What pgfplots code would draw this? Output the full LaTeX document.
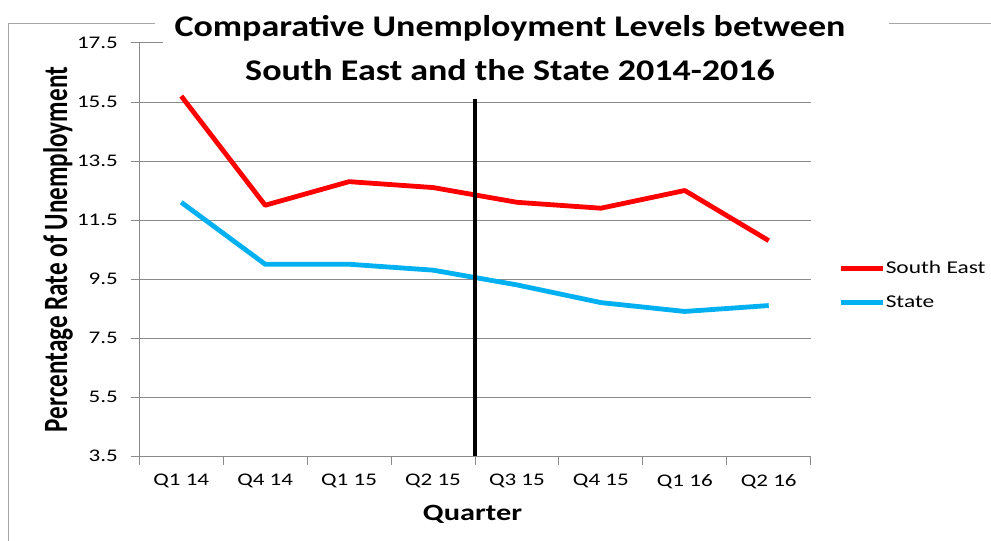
\documentclass[border=0pt]{standalone}
\usepackage{fontspec}
\setmainfont[FakeStretch=1.3]{Carlito}
\newfontfamily\calplain{Carlito}
\newfontfamily\caltitle[FakeStretch=1.2]{Carlito}
\usepackage{graphicx}
\usepackage{pgfplots}
\pgfplotsset{compat=1.18}
\definecolor{seRed}{HTML}{FF0000}
\definecolor{stBlue}{HTML}{00B0F0}
\definecolor{gridgray}{HTML}{8A8A8A}
\definecolor{framegray}{HTML}{A6A6A6}
\begin{document}
\begin{tikzpicture}
\useasboundingbox (0,0) rectangle (743.25pt,405pt);
\fill[white] (0,0) rectangle (743.25pt,405pt);
\draw[framegray, line width=0.75pt] (6pt,-5pt) -- (6pt,387pt) -- (116.25pt,387pt);
\draw[framegray, line width=0.75pt] (666.75pt,387pt) -- (750pt,387pt);
\begin{axis}[
  at={(104.475pt,63pt)}, anchor=south west,
  scale only axis, width=503.55pt, height=309.75pt,
  xmin=-0.5, xmax=7.5, ymin=3.5, ymax=17.5,
  axis x line*=bottom, axis y line*=left,
  axis line style={gridgray, line width=0.75pt, -},
  xtick={-0.5,0.5,...,7.5},
  xticklabels={},
  extra x ticks={0,1,2,3,4,5,6,7},
  extra x tick labels={Q1 14, Q4 14, Q1 15, Q2 15, Q3 15, Q4 15, Q1 16, Q2 16},
  extra x tick style={major tick length=0pt, grid=none},
  ytick={3.5,5.5,7.5,9.5,11.5,13.5,15.5,17.5},
  ymajorgrids,
  major grid style={gridgray, line width=0.75pt},
  tick style={gridgray, line width=0.75pt},
  tick align=outside,
  major tick length=6.5pt,
  /pgf/number format/fixed,
  /pgf/number format/fixed zerofill,
  /pgf/number format/precision=1,
  /pgf/number format/assume math mode=true,
  ticklabel style={font=\fontsize{13.3}{15}\selectfont, text=black},
  xticklabel style={yshift=-10pt},
  yticklabel style={xshift=-6pt},
  xlabel={Quarter},
  xlabel style={at={(axis description cs:0.4963,-0.155)}, anchor=base, font=\bfseries\fontsize{17.5}{20}\selectfont},
  ylabel={\scalebox{1.02}[1.38]{\calplain\bfseries Percentage Rate of Unemployment}},
  ylabel style={at={(axis description cs:-0.1210,0.5)}, anchor=center, font=\fontsize{18.5}{20}\selectfont},
  legend cell align=left,
  legend image code/.code={\draw[#1] (0pt,0pt) -- (31.5pt,0pt);},
  legend style={at={(axis description cs:1.0407,0.4128)}, anchor=west, draw=none, fill=none,
    inner sep=0pt, row sep=15pt, font=\fontsize{13.5}{16}\selectfont,
    nodes={inner xsep=0.5pt, inner ysep=0pt}},
]
\addplot[seRed, line width=3.6pt, line join=round] coordinates {
  (0,15.7) (1,12.0) (2,12.8) (3,12.6) (4,12.1) (5,11.9) (6,12.5) (7,10.8)};
\addlegendentry{South East}
\addplot[stBlue, line width=3.6pt, line join=round] coordinates {
  (0,12.1) (1,10.0) (2,10.0) (3,9.8) (4,9.3) (5,8.7) (6,8.4) (7,8.6)};
\addlegendentry{State}
\addplot[black, line width=3pt, forget plot] coordinates {(3.5,3.5) (3.5,15.6)};
\end{axis}
\fill[white] (122.25pt,362pt) rectangle (666.75pt,395pt);
\node[anchor=base, font=\caltitle\bfseries\fontsize{22.5}{26}\selectfont, inner sep=0pt] at (382.5pt,377.5pt) {Comparative Unemployment Levels between};
\node[anchor=base, font=\caltitle\bfseries\fontsize{22.5}{26}\selectfont, inner sep=0pt] at (382.5pt,344.5pt) {South East and the State 2014-2016};
\end{tikzpicture}
\end{document}
